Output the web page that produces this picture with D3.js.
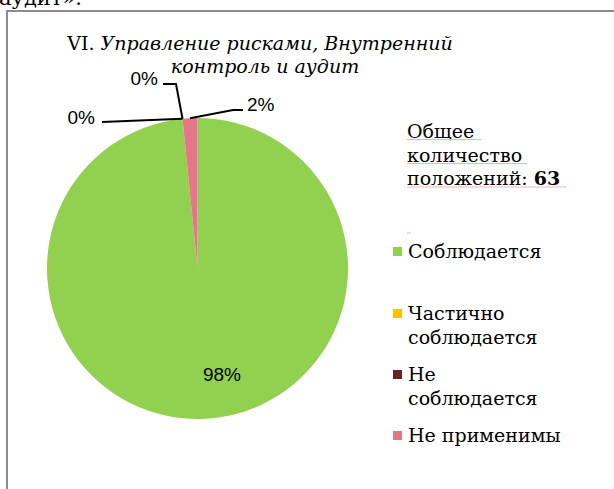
<!DOCTYPE html>
<html>
<head>
<meta charset="utf-8">
<script src="https://cdn.jsdelivr.net/npm/d3@7"></script>
<style>
  body { margin: 0; background: #fff; }
  svg { display: block; }
</style>
</head>
<body>
<script>
// данные диаграммы
const categories = ["Соблюдается", "Частично соблюдается", "Не соблюдается", "Не применимы"];
const counts = [62, 0, 0, 1];
const colors = ["#92D050", "#FFC000", "#632523", "#E57689"];
const legendLines = [["Соблюдается"], ["Частично", "соблюдается"], ["Не", "соблюдается"], ["Не применимы"]];
const totalCount = 63;

const width = 614, height = 489;
const cx = 197.5, cy = 268.5, radius = 150.5;
const serif = "'DejaVu Serif', 'Liberation Serif', serif";
const sans = "'Liberation Sans', Arial, sans-serif";

const svg = d3.select("body").append("svg")
    .attr("width", width)
    .attr("height", height);

// кусок текста над рамкой
svg.append("text")
    .attr("x", -1).attr("y", 5)
    .style("font-family", serif).style("font-size", "21px")
    .text("аудит».");

// рамка
svg.append("rect")
    .attr("x", 7).attr("y", 11)
    .attr("width", 640).attr("height", 520)
    .attr("fill", "none")
    .attr("stroke", "#8c8c8c")
    .attr("stroke-width", 2);

// заголовок
const title = svg.append("text")
    .attr("text-anchor", "middle")
    .style("font-family", serif).style("font-size", "19px")
    .attr("fill", "#000");
const t1 = title.append("tspan").attr("x", 260).attr("y", 50);
t1.append("tspan").text("VI. ");
t1.append("tspan").style("font-style", "italic").text("Управление рисками, Внутренний");
title.append("tspan").attr("x", 265).attr("y", 73)
    .style("font-style", "italic").text("контроль и аудит");

const pie = d3.pie().sort(null).value(d => d);
const arcs = pie(counts);
const arc = d3.arc().innerRadius(0).outerRadius(radius);

const g = svg.append("g").attr("transform", `translate(${cx},${cy})`);

g.selectAll("path.slice")
    .data(arcs)
    .enter().append("path")
    .attr("class", "slice")
    .attr("d", arc)
    .attr("fill", (d, i) => colors[i]);

// подписи процентов (смещения от центра круга)
const pct = d => Math.round(d.value / totalCount * 100) + "%";
const labelSpec = [
    { x: 24.5, y: 112.5, path: null, anchor: "middle" },
    { x: -39.5, y: -183.5, path: [[-21.5, -184.5], [-34.5, -184.5]], anchor: "end" },
    { x: -102.5, y: -145, path: [[-95.5, -146.5]], anchor: "end" },
    { x: 49.5, y: -157.5, path: [[35.5, -158.5], [45.5, -158.5]], anchor: "start" }
];

arcs.forEach((d, i) => {
    const spec = labelSpec[i];
    const a = (d.startAngle + d.endAngle) / 2;
    const edge = [Math.sin(a) * radius, -Math.cos(a) * radius];
    if (spec.path) {
        g.append("path")
            .attr("d", d3.line()([edge].concat(spec.path)))
            .attr("fill", "none")
            .attr("stroke", "#000")
            .attr("stroke-width", 2);
    }
    g.append("text")
        .attr("x", spec.x)
        .attr("y", spec.y)
        .attr("text-anchor", spec.anchor)
        .style("font-family", sans).style("font-size", "19px")
        .attr("fill", "#000")
        .text(pct(d));
});

// правая часть: общее количество
const info = svg.append("text")
    .style("font-family", serif).style("font-size", "19px")
    .attr("fill", "#000");
info.append("tspan").attr("x", 407).attr("y", 138).text("Общее");
info.append("tspan").attr("x", 407).attr("y", 162).text("количество");
const l3 = info.append("tspan").attr("x", 407).attr("y", 185);
l3.append("tspan").text("положений: ");
l3.append("tspan").style("font-weight", "bold").text(totalCount);

// подчёркивания проверки орфографии
[[407, 481, 139.5], [407, 527, 163.5], [407, 567, 187], [407, 411, 233]].forEach(s => {
    svg.append("line")
        .attr("x1", s[0]).attr("x2", s[1])
        .attr("y1", s[2]).attr("y2", s[2])
        .attr("stroke", "#f4b3b3")
        .attr("stroke-width", 1);
});

// легенда
const legendY = [251, 313, 374, 435];
const legend = svg.append("g");
categories.forEach((c, i) => {
    legend.append("rect")
        .attr("x", 393).attr("y", legendY[i] - 4)
        .attr("width", 9).attr("height", 9)
        .attr("fill", colors[i]);
    legendLines[i].forEach((ln, j) => {
        legend.append("text")
            .attr("x", 408).attr("y", legendY[i] + 7 + j * 24)
            .style("font-family", serif).style("font-size", "19px")
            .attr("fill", "#000")
            .text(ln);
    });
});
</script>
</body>
</html>
